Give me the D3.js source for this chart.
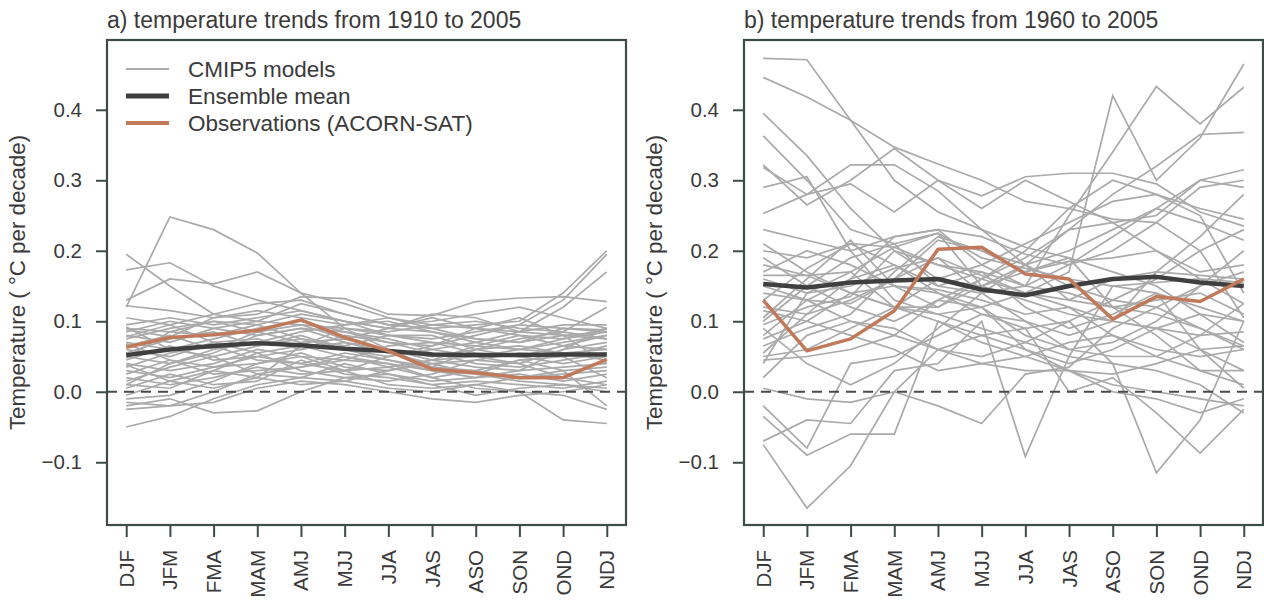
<!DOCTYPE html>
<html>
<head>
<meta charset="utf-8">
<script src="https://cdn.jsdelivr.net/npm/d3@7"></script>
<style>
  body { margin: 0; background: #fff; }
  text { font-family: "Liberation Sans", Arial, Helvetica, sans-serif; fill: #3a3a3a; }
</style>
</head>
<body>
<svg width="1264" height="606"></svg>
<script>
// 3-month seasons on the x axis
const seasons = ['DJF', 'JFM', 'FMA', 'MAM', 'AMJ', 'MJJ', 'JJA', 'JAS', 'ASO', 'SON', 'OND', 'NDJ'];
const yTicks = [-0.1, 0.0, 0.1, 0.2, 0.3, 0.4];
const legendLabels = ['CMIP5 models', 'Ensemble mean', 'Observations (ACORN-SAT)'];

// panel a: 1910 to 2005
const meanA = [0.052, 0.060, 0.065, 0.069, 0.066, 0.061, 0.058, 0.053, 0.052, 0.052, 0.053, 0.053];
const obsA  = [0.063, 0.077, 0.081, 0.087, 0.102, 0.077, 0.058, 0.032, 0.027, 0.020, 0.020, 0.046];
const modelsA = [
  [0.120, 0.248, 0.230, 0.197, 0.140, 0.125, 0.105, 0.095, 0.090, 0.085, 0.080, 0.085],
  [0.195, 0.150, 0.110, 0.100, 0.125, 0.110, 0.095, 0.100, 0.110, 0.120, 0.105, 0.090],
  [0.173, 0.183, 0.150, 0.130, 0.115, 0.100, 0.090, 0.085, 0.075, 0.070, 0.080, 0.075],
  [0.130, 0.160, 0.153, 0.170, 0.140, 0.090, 0.080, 0.070, 0.065, 0.060, 0.055, 0.060],
  [0.122, 0.115, 0.105, 0.110, 0.135, 0.132, 0.110, 0.108, 0.128, 0.133, 0.135, 0.128],
  [0.105, 0.095, 0.110, 0.125, 0.130, 0.110, 0.095, 0.090, 0.095, 0.100, 0.140, 0.200],
  [0.090, 0.085, 0.080, 0.095, 0.110, 0.100, 0.080, 0.075, 0.085, 0.095, 0.130, 0.195],
  [0.085, 0.100, 0.090, 0.080, 0.090, 0.085, 0.075, 0.060, 0.070, 0.085, 0.120, 0.170],
  [0.080, 0.070, 0.090, 0.100, 0.095, 0.090, 0.085, 0.095, 0.100, 0.090, 0.085, 0.120],
  [0.075, 0.090, 0.100, 0.085, 0.070, 0.075, 0.090, 0.105, 0.090, 0.080, 0.075, 0.090],
  [0.070, 0.060, 0.075, 0.090, 0.100, 0.085, 0.070, 0.065, 0.080, 0.095, 0.090, 0.085],
  [0.065, 0.080, 0.060, 0.070, 0.085, 0.095, 0.100, 0.085, 0.070, 0.060, 0.070, 0.080],
  [0.060, 0.050, 0.070, 0.075, 0.060, 0.070, 0.060, 0.050, 0.060, 0.075, 0.085, 0.075],
  [0.055, 0.075, 0.085, 0.065, 0.075, 0.060, 0.050, 0.060, 0.050, 0.040, 0.060, 0.070],
  [0.050, 0.040, 0.055, 0.080, 0.090, 0.070, 0.055, 0.040, 0.045, 0.055, 0.050, 0.065],
  [0.045, 0.065, 0.045, 0.050, 0.060, 0.080, 0.070, 0.055, 0.040, 0.035, 0.045, 0.055],
  [0.040, 0.030, 0.040, 0.060, 0.050, 0.045, 0.065, 0.070, 0.055, 0.050, 0.040, 0.050],
  [0.035, 0.055, 0.065, 0.045, 0.040, 0.055, 0.045, 0.035, 0.060, 0.065, 0.055, 0.045],
  [0.030, 0.020, 0.035, 0.040, 0.055, 0.035, 0.030, 0.045, 0.035, 0.030, 0.035, 0.040],
  [0.025, 0.045, 0.025, 0.030, 0.035, 0.050, 0.040, 0.030, 0.025, 0.045, 0.030, 0.035],
  [0.020, 0.010, 0.020, 0.035, 0.025, 0.030, 0.035, 0.020, 0.030, 0.020, 0.025, 0.030],
  [0.015, 0.035, 0.050, 0.025, 0.020, 0.040, 0.025, 0.015, 0.020, 0.025, 0.015, 0.025],
  [0.010, 0.005, 0.030, 0.055, 0.030, 0.020, 0.015, 0.025, 0.045, 0.040, 0.020, 0.010],
  [0.005, 0.025, 0.010, 0.015, 0.045, 0.025, 0.020, 0.010, 0.015, 0.010, 0.005, 0.015],
  [-0.005, 0.015, 0.030, 0.020, 0.010, 0.015, 0.030, 0.040, 0.025, 0.015, 0.010, 0.000],
  [-0.010, -0.005, 0.015, 0.040, 0.050, 0.030, 0.010, 0.005, 0.010, 0.020, 0.030, -0.020],
  [-0.015, -0.020, 0.000, 0.025, 0.035, 0.045, 0.040, 0.020, 0.005, 0.000, -0.005, -0.025],
  [-0.020, -0.010, -0.030, -0.027, 0.000, 0.020, 0.025, 0.010, -0.005, 0.005, 0.010, 0.005],
  [-0.025, -0.020, -0.015, 0.005, 0.015, 0.010, 0.000, -0.010, -0.015, -0.005, 0.000, 0.010],
  [-0.050, -0.035, -0.010, 0.010, 0.020, 0.015, 0.005, 0.000, 0.010, 0.000, -0.040, -0.045],
  [0.095, 0.105, 0.095, 0.105, 0.115, 0.100, 0.090, 0.110, 0.105, 0.085, 0.095, 0.095],
  [0.088, 0.078, 0.105, 0.115, 0.105, 0.095, 0.105, 0.090, 0.075, 0.070, 0.090, 0.088],
  [0.092, 0.060, 0.050, 0.065, 0.080, 0.060, 0.045, 0.030, 0.020, 0.030, 0.060, 0.090],
  [0.078, 0.095, 0.070, 0.055, 0.065, 0.050, 0.035, 0.045, 0.065, 0.080, 0.065, 0.060],
  [0.048, 0.085, 0.100, 0.095, 0.075, 0.065, 0.080, 0.080, 0.060, 0.050, 0.065, 0.080],
  [0.038, 0.015, 0.005, 0.020, 0.065, 0.090, 0.060, 0.045, 0.050, 0.060, 0.075, 0.085],
  [0.068, 0.045, 0.035, 0.050, 0.040, 0.030, 0.050, 0.065, 0.090, 0.105, 0.080, 0.040],
  [0.010, 0.040, 0.060, 0.085, 0.095, 0.075, 0.060, 0.035, 0.030, 0.045, 0.050, 0.020]
];

// panel b: 1960 to 2005
const meanB = [0.153, 0.148, 0.155, 0.158, 0.160, 0.145, 0.137, 0.150, 0.160, 0.163, 0.155, 0.150];
const obsB  = [0.130, 0.058, 0.075, 0.115, 0.202, 0.205, 0.167, 0.160, 0.103, 0.135, 0.128, 0.160];
const modelsB = [
  [0.473, 0.471, 0.385, 0.300, 0.255, 0.230, 0.205, 0.190, 0.170, 0.150, 0.110, 0.070],
  [0.446, 0.418, 0.385, 0.347, 0.323, 0.300, 0.270, 0.260, 0.245, 0.240, 0.200, 0.105],
  [0.395, 0.335, 0.260, 0.200, 0.180, 0.160, 0.140, 0.120, 0.100, 0.090, 0.060, 0.030],
  [0.363, 0.300, 0.230, 0.210, 0.150, 0.140, 0.150, 0.180, 0.220, 0.260, 0.300, 0.315],
  [0.322, 0.265, 0.300, 0.345, 0.300, 0.278, 0.305, 0.310, 0.310, 0.295, 0.255, 0.235],
  [0.318, 0.280, 0.295, 0.255, 0.300, 0.260, 0.300, 0.270, 0.240, 0.200, 0.160, 0.125],
  [0.290, 0.305, 0.200, 0.130, 0.110, 0.090, 0.070, 0.050, 0.040, 0.030, 0.010, -0.030],
  [0.253, 0.280, 0.322, 0.322, 0.285, 0.230, 0.180, 0.150, 0.130, 0.120, 0.090, 0.060],
  [0.230, 0.215, 0.200, 0.220, 0.230, 0.220, 0.195, 0.180, 0.200, 0.240, 0.290, 0.300],
  [0.210, 0.170, 0.140, 0.120, 0.110, 0.120, 0.140, 0.170, 0.420, 0.300, 0.360, 0.465],
  [0.200, 0.190, 0.210, 0.205, 0.180, 0.170, 0.150, 0.250, 0.340, 0.433, 0.380, 0.432],
  [0.190, 0.150, 0.120, 0.100, 0.130, 0.160, 0.190, 0.230, 0.280, 0.320, 0.365, 0.368],
  [0.165, 0.165, 0.170, 0.205, 0.225, 0.190, 0.175, 0.160, 0.150, 0.155, 0.160, 0.155],
  [0.160, 0.140, 0.150, 0.175, 0.190, 0.165, 0.140, 0.130, 0.160, 0.170, 0.165, 0.160],
  [0.150, 0.130, 0.125, 0.160, 0.215, 0.200, 0.170, 0.185, 0.190, 0.200, 0.170, 0.180],
  [0.120, 0.110, 0.160, 0.220, 0.230, 0.180, 0.150, 0.140, 0.120, 0.130, 0.140, 0.110],
  [0.100, 0.150, 0.190, 0.210, 0.225, 0.150, 0.130, 0.110, 0.100, 0.090, 0.080, 0.085],
  [0.095, 0.120, 0.135, 0.200, 0.160, 0.150, 0.180, 0.200, 0.230, 0.260, 0.240, 0.215],
  [0.080, 0.130, 0.160, 0.180, 0.150, 0.170, 0.120, 0.090, 0.110, 0.140, 0.120, 0.100],
  [0.075, 0.100, 0.140, 0.150, 0.145, 0.130, 0.110, 0.120, 0.080, 0.060, 0.050, 0.060],
  [0.050, 0.060, 0.090, 0.120, 0.160, 0.180, 0.210, 0.240, 0.270, 0.280, 0.260, 0.245],
  [0.045, 0.050, 0.060, 0.080, 0.130, 0.120, 0.060, 0.040, 0.060, 0.090, 0.110, 0.100],
  [0.040, 0.140, 0.170, 0.120, 0.100, 0.070, 0.050, 0.030, 0.010, 0.000, -0.010, -0.020],
  [0.020, 0.080, 0.100, 0.090, 0.060, 0.040, 0.030, 0.030, 0.025, 0.040, 0.060, 0.065],
  [-0.020, -0.080, 0.040, 0.050, 0.080, 0.110, 0.090, 0.000, 0.020, -0.030, -0.087, -0.025],
  [-0.035, -0.090, -0.060, -0.060, 0.100, 0.080, 0.060, 0.030, 0.000, -0.010, -0.030, -0.010],
  [-0.075, -0.165, -0.105, 0.000, 0.060, 0.080, 0.090, 0.100, 0.040, -0.115, -0.040, 0.100],
  [-0.070, -0.040, -0.045, 0.030, 0.040, 0.100, -0.092, 0.050, 0.150, 0.140, 0.060, 0.005],
  [0.005, -0.010, -0.015, 0.000, -0.020, -0.045, 0.025, 0.035, 0.090, 0.120, 0.150, 0.200],
  [0.130, 0.175, 0.210, 0.180, 0.140, 0.110, 0.100, 0.080, 0.100, 0.170, 0.220, 0.280],
  [0.105, 0.160, 0.215, 0.150, 0.120, 0.150, 0.170, 0.190, 0.120, 0.080, 0.030, 0.010],
  [0.065, 0.090, 0.110, 0.170, 0.220, 0.200, 0.180, 0.130, 0.120, 0.110, 0.090, 0.065],
  [0.055, 0.110, 0.130, 0.160, 0.190, 0.140, 0.100, 0.060, 0.050, 0.050, 0.080, 0.125],
  [0.090, 0.040, 0.010, 0.040, 0.090, 0.140, 0.180, 0.230, 0.240, 0.250, 0.300, 0.290],
  [0.170, 0.200, 0.180, 0.150, 0.140, 0.120, 0.080, 0.060, 0.070, 0.100, 0.150, 0.170],
  [0.140, 0.130, 0.100, 0.080, 0.060, 0.050, 0.070, 0.100, 0.130, 0.160, 0.200, 0.230],
  [0.115, 0.100, 0.080, 0.060, 0.030, 0.040, 0.050, 0.070, 0.080, 0.050, 0.030, 0.030],
  [0.180, 0.165, 0.140, 0.120, 0.120, 0.160, 0.200, 0.260, 0.300, 0.280, 0.250, 0.140]
];

const grey = '#aaaaaa', meanCol = '#3f3f3f', obsCol = '#c07a5a', axisCol = '#3d4b49';
const svg = d3.select('svg');

function drawPanel(left, title, models, mean, obs, showLegend) {
  const top = 40, bottom = 525, right = left + 519;
  const x = d3.scalePoint().domain(seasons).range([left, right]).padding(0.44);
  const y = d3.scaleLinear().domain([-0.189, 0.499]).range([bottom, top]);
  const line = d3.line().x((d, i) => x(seasons[i])).y(d => y(d));
  const g = svg.append('g');

  g.append('defs').append('clipPath').attr('id', 'clip' + left)
    .append('rect').attr('x', left).attr('y', top).attr('width', right - left).attr('height', bottom - top);
  const plot = g.append('g').attr('clip-path', `url(#clip${left})`);

  plot.selectAll('.model').data(models).enter().append('path')
    .attr('d', line).attr('fill', 'none').attr('stroke', grey).attr('stroke-width', 1.7);

  // zero line
  plot.append('line').attr('x1', left).attr('x2', right).attr('y1', y(0)).attr('y2', y(0))
    .attr('stroke', '#4a4a4a').attr('stroke-width', 2).attr('stroke-dasharray', '10,7');

  plot.append('path').datum(mean).attr('d', line).attr('fill', 'none')
    .attr('stroke', meanCol).attr('stroke-width', 4.5).attr('stroke-linejoin', 'round');
  plot.append('path').datum(obs).attr('d', line).attr('fill', 'none')
    .attr('stroke', obsCol).attr('stroke-width', 3.5).attr('stroke-linejoin', 'round');

  // axes
  const yAxis = g.append('g').attr('transform', `translate(${left},0)`)
    .call(d3.axisLeft(y).tickValues(yTicks).tickFormat(d3.format('.1f')).tickSize(11).tickPadding(14));
  const xAxis = g.append('g').attr('transform', `translate(0,${bottom})`)
    .call(d3.axisBottom(x).tickSize(12).tickPadding(0));
  [yAxis, xAxis].forEach(a => {
    a.select('.domain').remove();
    a.selectAll('line').attr('stroke', axisCol).attr('stroke-width', 2);
    a.selectAll('text').attr('font-size', 20.5).attr('fill', '#3a3a3a')
      .style('font-family', '"Liberation Sans", Arial, sans-serif');
  });
  // rotated season labels, right-aligned just under the ticks
  xAxis.selectAll('text')
    .attr('text-anchor', 'end')
    .attr('dy', null)
    .attr('x', 0).attr('y', 0)
    .attr('transform', 'translate(7,25) rotate(-90)');

  g.append('rect').attr('x', left).attr('y', top).attr('width', right - left).attr('height', bottom - top)
    .attr('fill', 'none').attr('stroke', axisCol).attr('stroke-width', 2.2);

  g.append('text').attr('x', left).attr('y', 28).attr('font-size', 23).text(title);

  g.append('text').attr('transform', `translate(${left - 82},${(top + bottom) / 2}) rotate(-90)`)
    .attr('text-anchor', 'middle').attr('font-size', 22.3).text('Temperature ( °C per decade)');

  if (showLegend) {
    const styles = [[grey, 2], [meanCol, 5], [obsCol, 4]];
    const leg = g.selectAll('.leg').data(legendLabels).enter().append('g')
      .attr('transform', (d, i) => `translate(${left + 19},${69 + i * 27})`);
    leg.append('line').attr('x1', 0).attr('x2', 43)
      .attr('stroke', (d, i) => styles[i][0]).attr('stroke-width', (d, i) => styles[i][1]);
    leg.append('text').attr('x', 62).attr('dy', '0.35em').attr('font-size', 22.5).text(d => d);
  }
}

drawPanel(107, 'a) temperature trends from 1910 to 2005', modelsA, meanA, obsA, true);
drawPanel(744, 'b) temperature trends from 1960 to 2005', modelsB, meanB, obsB, false);
</script>
</body>
</html>
